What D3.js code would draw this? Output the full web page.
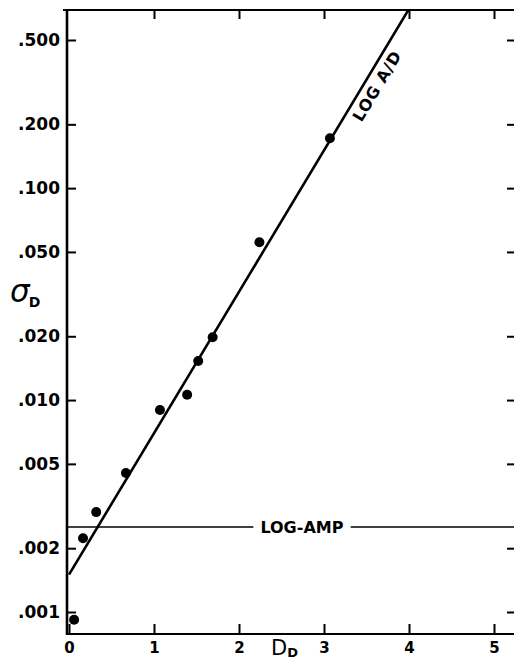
<!DOCTYPE html>
<html>
<head>
<meta charset="utf-8">
<script src="https://cdn.jsdelivr.net/npm/d3@7"></script>
<style>
  body { margin: 0; background: #fff; }
  svg { display: block; }
  .tick text { font-family: "DejaVu Sans", sans-serif; font-weight: bold; fill: #000; }
</style>
</head>
<body>
<div id="chart"></div>
<script>
// values
const dValues = [0.06, 0.165, 0.32, 0.67, 1.07, 1.39, 1.52, 1.69, 2.24, 3.07];
const sigmaValues = [0.00092, 0.00223, 0.00296, 0.00453, 0.00897, 0.0106, 0.0153, 0.0198, 0.0556, 0.172];

// fitted LOG A/D line (start, end where it leaves the top)
const fitD = [0, 3.99];
const fitSigma = [0.0015, 0.69];

// LOG-AMP level
const logAmpSigma = 0.00252;
const logAmpLabelD = 2.74;

const xTicks = [0, 1, 2, 3, 4, 5];
const xTopTicks = [1, 2, 3, 4, 5];
const yTicks = [0.5, 0.2, 0.1, 0.05, 0.02, 0.01, 0.005, 0.002, 0.001];
const yTickLabels = [".500", ".200", ".100", ".050", ".020", ".010", ".005", ".002", ".001"];

const width = 514, height = 661;
const plotLeft = 67, plotRight = 515, plotTop = 10, plotBottom = 634;

const svg = d3.select("#chart").append("svg")
    .attr("width", width)
    .attr("height", height);

const x = d3.scaleLinear().domain([0, 5.25]).range([69, 515.25]);
const y = d3.scaleLog().domain([0.001, 0.5]).range([612, 40]);

svg.append("clipPath").attr("id", "plot-clip")
    .append("rect")
    .attr("x", plotLeft).attr("y", plotTop)
    .attr("width", plotRight - plotLeft).attr("height", plotBottom - plotTop);

// left axis: ticks inward, labels outside
const yLeft = svg.append("g")
    .attr("transform", `translate(${plotLeft},0)`)
    .call(d3.axisLeft(y)
        .tickValues(yTicks)
        .tickFormat((d, i) => yTickLabels[i])
        .tickSizeInner(-9)
        .tickSizeOuter(0)
        .tickPadding(7));
yLeft.select(".domain").remove();
yLeft.selectAll(".tick line").attr("stroke", "#000").attr("stroke-width", 2);
yLeft.selectAll(".tick text").attr("font-size", 17);

// right ticks, no labels
const yRight = svg.append("g")
    .attr("transform", `translate(${plotRight},0)`)
    .call(d3.axisRight(y).tickValues(yTicks).tickFormat("").tickSizeInner(-8).tickSizeOuter(0));
yRight.select(".domain").remove();
yRight.selectAll(".tick line").attr("stroke", "#000").attr("stroke-width", 2);

// bottom axis
const xBottom = svg.append("g")
    .attr("transform", `translate(0,${plotBottom})`)
    .call(d3.axisBottom(x)
        .tickValues(xTicks)
        .tickFormat(d3.format("d"))
        .tickSizeInner(-10)
        .tickSizeOuter(0)
        .tickPadding(8));
xBottom.select(".domain").remove();
xBottom.selectAll(".tick line").attr("stroke", "#000").attr("stroke-width", 2);
xBottom.selectAll(".tick text").attr("font-size", 15);

// top ticks
const xTop = svg.append("g")
    .attr("transform", `translate(0,${plotTop})`)
    .call(d3.axisTop(x).tickValues(xTopTicks).tickFormat("").tickSizeInner(-9).tickSizeOuter(0));
xTop.select(".domain").remove();
xTop.selectAll(".tick line").attr("stroke", "#000").attr("stroke-width", 2);

// frame
const frame = svg.append("g").attr("stroke", "#000").attr("fill", "none");
frame.append("line").attr("x1", plotLeft).attr("x2", plotLeft).attr("y1", plotTop - 1).attr("y2", plotBottom + 1).attr("stroke-width", 2.6);
frame.append("line").attr("x1", plotLeft - 1).attr("x2", plotRight).attr("y1", plotBottom).attr("y2", plotBottom).attr("stroke-width", 2.2);
frame.append("line").attr("x1", plotLeft - 4).attr("x2", plotRight).attr("y1", plotTop).attr("y2", plotTop).attr("stroke-width", 2.2);

const plot = svg.append("g").attr("clip-path", "url(#plot-clip)");

// LOG-AMP line with label gap
plot.append("line")
    .attr("x1", plotLeft).attr("x2", plotRight)
    .attr("y1", y(logAmpSigma)).attr("y2", y(logAmpSigma))
    .attr("stroke", "#000").attr("stroke-width", 1.6);

const ampLabel = svg.append("text")
    .attr("x", x(logAmpLabelD))
    .attr("y", y(logAmpSigma) + 6)
    .attr("text-anchor", "middle")
    .attr("font-family", "DejaVu Sans, sans-serif")
    .attr("font-weight", "bold")
    .attr("font-size", 16)
    .text("LOG-AMP");
const bb = ampLabel.node().getBBox();
svg.insert("rect", () => ampLabel.node())
    .attr("x", bb.x - 7).attr("y", y(logAmpSigma) - 3)
    .attr("width", bb.width + 14).attr("height", 6)
    .attr("fill", "#fff");

// LOG A/D fit line
const fitLine = d3.line().x(d => x(d[0])).y(d => y(d[1]));
plot.append("path")
    .attr("d", fitLine(d3.zip(fitD, fitSigma)))
    .attr("fill", "none")
    .attr("stroke", "#000")
    .attr("stroke-width", 2.6);

// label along the fit line
const slope = (Math.log10(fitSigma[1]) - Math.log10(fitSigma[0])) / (fitD[1] - fitD[0]);
const labelD = 3.5;
const labelSigma = Math.pow(10, Math.log10(fitSigma[0]) + slope * labelD);
const p0 = [x(fitD[0]), y(fitSigma[0])], p1 = [x(fitD[1]), y(fitSigma[1])];
const angle = Math.atan2(p1[1] - p0[1], p1[0] - p0[0]) * 180 / Math.PI;
svg.append("text")
    .attr("transform", `translate(${x(labelD)},${y(labelSigma)}) rotate(${angle})`)
    .attr("y", 18)
    .attr("text-anchor", "middle")
    .attr("font-family", "DejaVu Sans, sans-serif")
    .attr("font-weight", "bold")
    .attr("font-size", 16)
    .attr("letter-spacing", 0.8)
    .text("LOG A/D");

// data points
svg.append("g")
    .selectAll("circle")
    .data(d3.zip(dValues, sigmaValues))
    .join("circle")
    .attr("cx", d => x(d[0]))
    .attr("cy", d => y(d[1]))
    .attr("r", 5)
    .attr("fill", "#000");

// axis titles
const yTitle = svg.append("text")
    .attr("x", 10).attr("y", 302)
    .attr("font-family", "DejaVu Sans, sans-serif");
yTitle.append("tspan").attr("font-size", 31).attr("font-style", "italic").text("σ");
yTitle.append("tspan").attr("font-size", 14).attr("font-weight", "bold").attr("dy", 5).attr("dx", -1).text("D");

const xTitle = svg.append("text")
    .attr("x", 271).attr("y", 655)
    .attr("font-family", "DejaVu Sans, sans-serif");
xTitle.append("tspan").attr("font-size", 21).text("D");
xTitle.append("tspan").attr("font-size", 13).attr("font-weight", "bold").attr("dy", 2).text("D");
</script>
</body>
</html>
